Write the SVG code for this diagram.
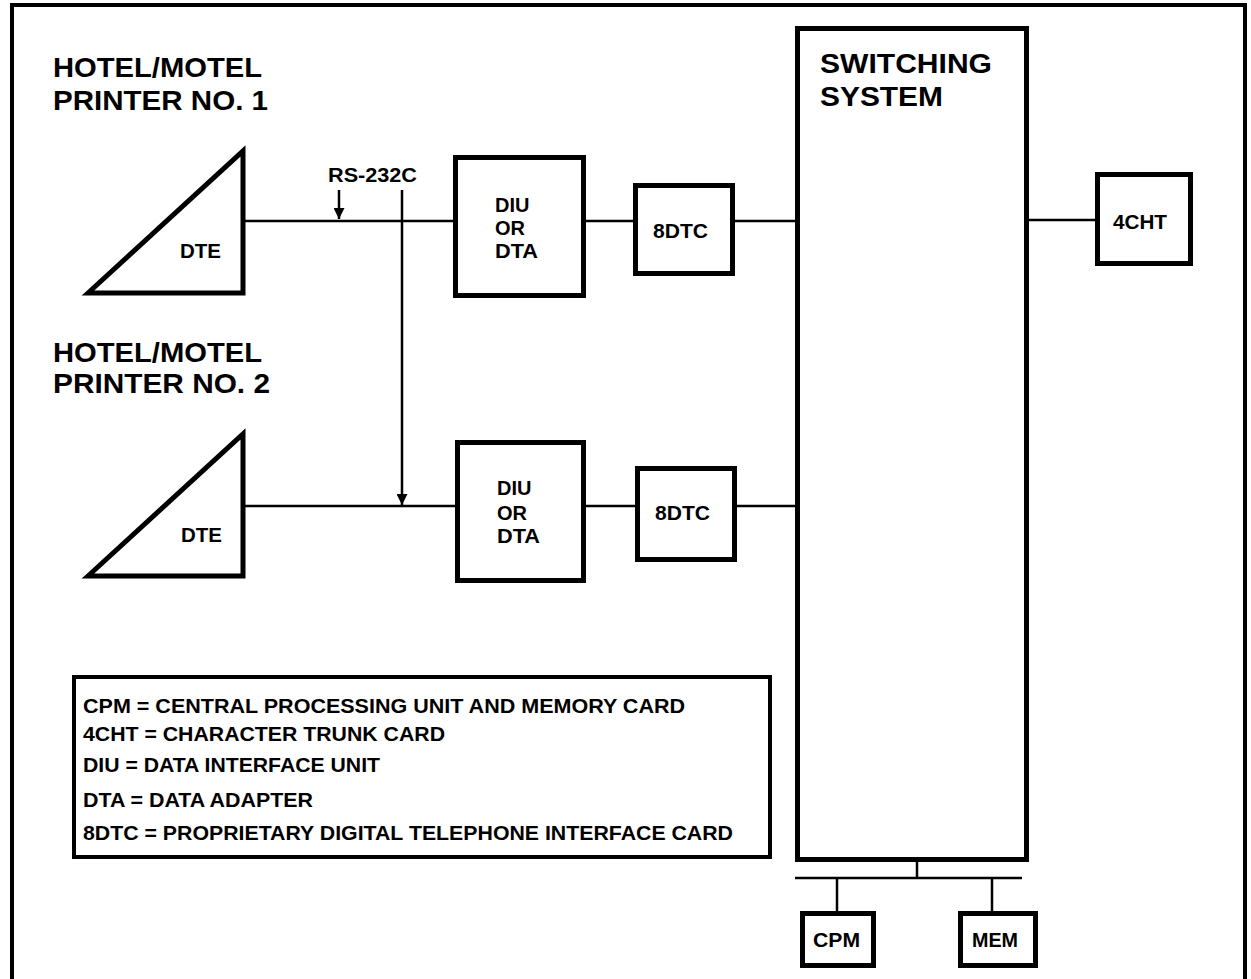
<svg xmlns="http://www.w3.org/2000/svg" width="1251" height="979" viewBox="0 0 1251 979">
<style>
  text { font-family: "Liberation Sans", Arial, sans-serif; font-weight: bold; fill: #000; }
  .title { font-size: 28px; }
  .lbl { font-size: 20px; }
  .leg { font-size: 20px; }
  .box { fill: #fff; stroke: #000; stroke-width: 5; }
  .tri { fill: #fff; stroke: #000; stroke-width: 5; stroke-linejoin: miter; }
  .wire { fill: none; stroke: #000; stroke-width: 2.5; }
</style>
<defs>
  <marker id="ah" viewBox="0 0 10 10" refX="10" refY="5" markerWidth="16" markerHeight="11" markerUnits="userSpaceOnUse" orient="auto">
    <path d="M0,0 L10,5 L0,10 z" fill="#000"/>
  </marker>
</defs>
<rect width="1251" height="979" fill="#fff"/>
<path d="M12,979 V5 H1245 V979" fill="none" stroke="#000" stroke-width="4"/>

<g id="connectors">
  <line class="wire" x1="245" y1="221" x2="456" y2="221"/>
  <line class="wire" x1="585" y1="221" x2="635" y2="221"/>
  <line class="wire" x1="733" y1="221" x2="798" y2="221"/>
  <line class="wire" x1="245" y1="506" x2="458" y2="506"/>
  <line class="wire" x1="583" y1="506" x2="637" y2="506"/>
  <line class="wire" x1="735" y1="506" x2="798" y2="506"/>
  <line class="wire" x1="1027" y1="220" x2="1097" y2="220"/>
  <line class="wire" x1="339" y1="190" x2="339" y2="219" marker-end="url(#ah)"/>
  <line class="wire" x1="402" y1="190" x2="402" y2="505" marker-end="url(#ah)"/>
  <line class="wire" x1="917" y1="860" x2="917" y2="878"/>
  <line class="wire" x1="795" y1="878" x2="1022" y2="878"/>
  <line class="wire" x1="837" y1="878" x2="837" y2="913"/>
  <line class="wire" x1="992" y1="878" x2="992" y2="913"/>
</g>

<g id="label-printer1">
  <text class="title" x="53" y="77" textLength="209" lengthAdjust="spacingAndGlyphs">HOTEL/MOTEL</text>
  <text class="title" x="53" y="110" textLength="215" lengthAdjust="spacingAndGlyphs">PRINTER NO. 1</text>
</g>
<g id="label-printer2">
  <text class="title" x="53" y="362" textLength="209" lengthAdjust="spacingAndGlyphs">HOTEL/MOTEL</text>
  <text class="title" x="53" y="393" textLength="217" lengthAdjust="spacingAndGlyphs">PRINTER NO. 2</text>
</g>
<g id="label-rs232c">
  <text class="lbl" x="328" y="182" textLength="89" lengthAdjust="spacingAndGlyphs">RS-232C</text>
</g>

<g id="dte1">
  <polygon class="tri" points="88,293 243,151 243,293"/>
  <text class="lbl" x="180" y="258" textLength="41" lengthAdjust="spacingAndGlyphs">DTE</text>
</g>
<g id="dte2">
  <polygon class="tri" points="88,576 243,434 243,576"/>
  <text class="lbl" x="181" y="542" textLength="41" lengthAdjust="spacingAndGlyphs">DTE</text>
</g>

<g id="diu1">
  <rect class="box" x="455.5" y="157.5" width="128" height="138"/>
  <text class="lbl" x="495" y="212">DIU</text>
  <text class="lbl" x="495" y="235">OR</text>
  <text class="lbl" x="495" y="258" textLength="43" lengthAdjust="spacingAndGlyphs">DTA</text>
</g>
<g id="diu2">
  <rect class="box" x="457.5" y="442.5" width="126" height="138"/>
  <text class="lbl" x="497" y="495">DIU</text>
  <text class="lbl" x="497" y="520">OR</text>
  <text class="lbl" x="497" y="543" textLength="43" lengthAdjust="spacingAndGlyphs">DTA</text>
</g>

<g id="dtc1">
  <rect class="box" x="635.5" y="185.5" width="97" height="88"/>
  <text class="lbl" x="653" y="238" textLength="55" lengthAdjust="spacingAndGlyphs">8DTC</text>
</g>
<g id="dtc2">
  <rect class="box" x="637.5" y="468.5" width="97" height="91"/>
  <text class="lbl" x="655" y="520" textLength="55" lengthAdjust="spacingAndGlyphs">8DTC</text>
</g>

<g id="switching">
  <rect class="box" x="797.5" y="28.5" width="229" height="831"/>
  <text class="title" x="820" y="73" textLength="172" lengthAdjust="spacingAndGlyphs">SWITCHING</text>
  <text class="title" x="820" y="106" textLength="123" lengthAdjust="spacingAndGlyphs">SYSTEM</text>
</g>

<g id="cht4">
  <rect class="box" x="1097.5" y="174.5" width="93" height="89"/>
  <text class="lbl" x="1113" y="229" textLength="54" lengthAdjust="spacingAndGlyphs">4CHT</text>
</g>

<g id="cpm">
  <rect class="box" x="802.5" y="913.5" width="71" height="52"/>
  <text class="lbl" x="813" y="947" textLength="47" lengthAdjust="spacingAndGlyphs">CPM</text>
</g>
<g id="mem">
  <rect class="box" x="960.5" y="913.5" width="75" height="52"/>
  <text class="lbl" x="972" y="947" textLength="46" lengthAdjust="spacingAndGlyphs">MEM</text>
</g>

<g id="legend">
  <rect x="74" y="677" width="696" height="180" fill="#fff" stroke="#000" stroke-width="4"/>
  <text class="leg" x="83" y="713" textLength="602" lengthAdjust="spacingAndGlyphs">CPM = CENTRAL PROCESSING UNIT AND MEMORY CARD</text>
  <text class="leg" x="83" y="741" textLength="362" lengthAdjust="spacingAndGlyphs">4CHT = CHARACTER TRUNK CARD</text>
  <text class="leg" x="83" y="772" textLength="297" lengthAdjust="spacingAndGlyphs">DIU = DATA INTERFACE UNIT</text>
  <text class="leg" x="83" y="807" textLength="230" lengthAdjust="spacingAndGlyphs">DTA = DATA ADAPTER</text>
  <text class="leg" x="83" y="840" textLength="650" lengthAdjust="spacingAndGlyphs">8DTC = PROPRIETARY DIGITAL TELEPHONE INTERFACE CARD</text>
</g>
</svg>
